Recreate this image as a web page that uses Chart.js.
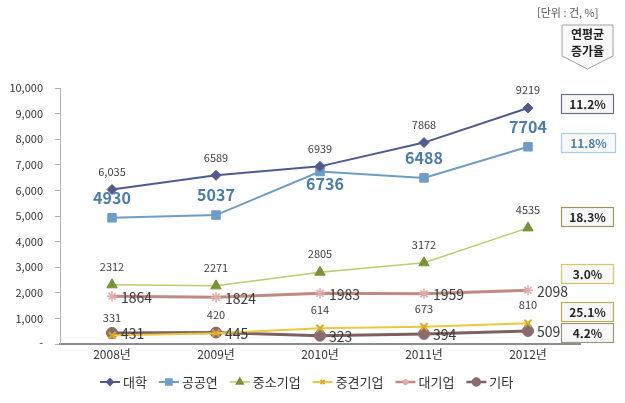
<!DOCTYPE html>
<html lang="ko">
<head>
<meta charset="UTF-8">
<title>연평균 증가율</title>
<script src="https://cdn.jsdelivr.net/npm/chart.js"></script>
<style>
  body { margin: 0; background: #fff; }
  #wrap { position: relative; width: 625px; height: 403px; }
</style>
</head>
<body>
<div id="wrap"><canvas id="trendChart"></canvas></div>
<script>
  // data
  const years = ['2008년', '2009년', '2010년', '2011년', '2012년'];
  const seriesNames = ['대학', '공공연', '중소기업', '중견기업', '대기업', '기타'];
  const univ = [6035, 6589, 6939, 7868, 9219];
  const publicInst = [4930, 5037, 6736, 6488, 7704];
  const smallBiz = [2312, 2271, 2805, 3172, 4535];
  const midBiz = [331, 420, 614, 673, 810];
  const largeBiz = [1864, 1824, 1983, 1959, 2098];
  const others = [431, 445, 323, 394, 509];
  const growthRates = ['11.2%', '11.8%', '18.3%', '3.0%', '25.1%', '4.2%'];
  const yMax = 10000;
  const yStep = 1000;

  const FONT = '"Noto Sans CJK KR", "Noto Sans", sans-serif';

  // look of each series
  const styles = [
    { line: '#505a8e', point: '#505a8e', shape: 'rectRot', r: 5, lw: 2, place: 'above', lf: '11px', lc: '#404040' },
    { line: '#6d9cc6', point: '#6d9cc6', shape: 'rect', r: 6, lw: 2, places: ['above', 'above', 'below', 'above', 'above'], lf: 'bold 16px', lc: '#4a7cab', off: 20 },
    { line: '#b9cc6e', point: '#78923a', shape: 'triangle', r: 6, lw: 1.5, place: 'above', lf: '11px', lc: '#404040' },
    { line: '#ecc840', point: '#d8a92a', shape: 'crossRot', r: 5, lw: 2, pw: 2, place: 'above', lf: '11px', lc: '#404040' },
    { line: '#c08a83', point: '#e2aaa8', shape: 'star', r: 5, lw: 3, pw: 1.5, place: 'right', lf: '14px', lc: '#3a3a3a' },
    { line: '#7e6060', point: '#8b6b6b', shape: 'circle', r: 5.5, lw: 3, place: 'right', lf: '14px', lc: '#3a3a3a' }
  ];

  const rateBoxes = [
    { y: 94, w: 52, border: '#6b6f85', color: '#262626' },
    { y: 133, w: 54, border: '#a9cbe3', color: '#4a7fb0' },
    { y: 207, w: 52, border: '#9c9a5a', color: '#262626' },
    { y: 264, w: 52, border: '#d8c46a', color: '#262626' },
    { y: 302, w: 52, border: '#b2b35c', color: '#262626' },
    { y: 323, w: 52, border: '#9b987a', color: '#262626' }
  ];

  const allSeries = [univ, publicInst, smallBiz, midBiz, largeBiz, others];

  const datasets = allSeries.map((values, i) => ({
    label: seriesNames[i],
    data: values,
    borderColor: styles[i].line,
    borderWidth: styles[i].lw,
    backgroundColor: styles[i].point,
    pointStyle: styles[i].shape,
    pointRadius: styles[i].r,
    pointBorderColor: styles[i].point,
    pointBackgroundColor: styles[i].point,
    pointBorderWidth: styles[i].pw || 1,
    tension: 0
  }));

  const valueLabels = {
    id: 'valueLabels',
    afterDatasetsDraw(chart) {
      const ctx = chart.ctx;
      chart.data.datasets.forEach((ds, di) => {
        const st = styles[di];
        chart.getDatasetMeta(di).data.forEach((pt, i) => {
          const v = ds.data[i];
          const text = (di === 0 && i === 0) ? v.toLocaleString('en-US') : String(v);
          const place = st.places ? st.places[i] : st.place;
          ctx.save();
          ctx.font = st.lf + ' ' + FONT;
          ctx.fillStyle = st.lc;
          ctx.textBaseline = 'middle';
          if (place === 'right') {
            ctx.textAlign = 'left';
            ctx.fillText(text, pt.x + 9, pt.y + 1);
          } else if (place === 'below') {
            ctx.textAlign = 'center';
            ctx.fillText(text, pt.x + 5, pt.y + 12);
          } else {
            ctx.textAlign = 'center';
            ctx.fillText(text, pt.x, pt.y - (st.off || 18));
          }
          ctx.restore();
        });
      });
    }
  };

  const extras = {
    id: 'extras',
    afterDraw(chart) {
      const ctx = chart.ctx;
      ctx.save();

      // unit note
      ctx.font = '11px ' + FONT;
      ctx.fillStyle = '#555';
      ctx.textAlign = 'left';
      ctx.textBaseline = 'middle';
      ctx.fillText('[단위 : 건, %]', 537, 13);

      // callout arrow
      ctx.beginPath();
      ctx.moveTo(562, 25);
      ctx.lineTo(613, 25);
      ctx.lineTo(613, 56);
      ctx.lineTo(587.5, 69);
      ctx.lineTo(562, 56);
      ctx.closePath();
      ctx.fillStyle = '#f9f9f9';
      ctx.fill();
      ctx.strokeStyle = '#a0a0a0';
      ctx.lineWidth = 1;
      ctx.stroke();
      ctx.fillStyle = '#222';
      ctx.font = 'bold 12px ' + FONT;
      ctx.textAlign = 'center';
      ctx.fillText('연평균', 587.5, 34);
      ctx.fillText('증가율', 587.5, 51);

      // growth rate boxes
      rateBoxes.forEach((b, i) => {
        const h = 19;
        ctx.fillStyle = '#f8f8f8';
        ctx.fillRect(561.5, b.y + 0.5, b.w, h);
        ctx.strokeStyle = b.border;
        ctx.lineWidth = 1.2;
        ctx.strokeRect(561.5, b.y + 0.5, b.w, h);
        ctx.fillStyle = b.color;
        ctx.font = 'bold 12px ' + FONT;
        ctx.fillText(growthRates[i], 561.5 + b.w / 2, b.y + h / 2 + 1);
      });

      // legend: line with marker
      let x = 100;
      const ly = 382;
      ctx.font = '13px ' + FONT;
      chart.data.datasets.forEach((ds, i) => {
        const st = styles[i];
        ctx.strokeStyle = st.line;
        ctx.lineWidth = Math.min(st.lw, 2.5);
        ctx.beginPath();
        ctx.moveTo(x, ly);
        ctx.lineTo(x + 20, ly);
        ctx.stroke();
        ctx.fillStyle = st.point;
        ctx.strokeStyle = st.point;
        Chart.helpers.drawPoint(ctx, {
          pointStyle: st.shape,
          radius: Math.max(st.r - 2, 3),
          borderWidth: st.pw || 1,
          rotation: 0
        }, x + 10, ly);
        ctx.fillStyle = '#333';
        ctx.textAlign = 'left';
        ctx.fillText(ds.label, x + 23, ly);
        x += 23 + ctx.measureText(ds.label).width + 12;
      });

      ctx.restore();
    }
  };

  new Chart(document.getElementById('trendChart'), {
    type: 'line',
    data: { labels: years, datasets: datasets },
    options: {
      responsive: true,
      maintainAspectRatio: false,
      animation: false,
      layout: { padding: { top: 88, right: 45, bottom: 39, left: 0 } },
      plugins: {
        legend: { display: false },
        tooltip: { enabled: false }
      },
      scales: {
        x: {
          offset: true,
          grid: { drawOnChartArea: false, drawTicks: false },
          border: { color: '#8c8c8c', width: 2 },
          ticks: { color: '#333', padding: 3, font: { family: FONT, size: 12 } },
          afterFit(s) { s.height = 20; }
        },
        y: {
          min: 0,
          max: yMax,
          grid: { drawOnChartArea: false, drawTicks: true, tickLength: 5, color: '#b0b0b0' },
          border: { color: '#b0b0b0', width: 1 },
          ticks: {
            stepSize: yStep,
            color: '#333',
            padding: 12,
            font: { family: FONT, size: 11 },
            callback: v => v === 0 ? '-' : v.toLocaleString('en-US')
          },
          afterFit(s) { s.width = 60; }
        }
      }
    },
    plugins: [valueLabels, extras]
  });
</script>
</body>
</html>
